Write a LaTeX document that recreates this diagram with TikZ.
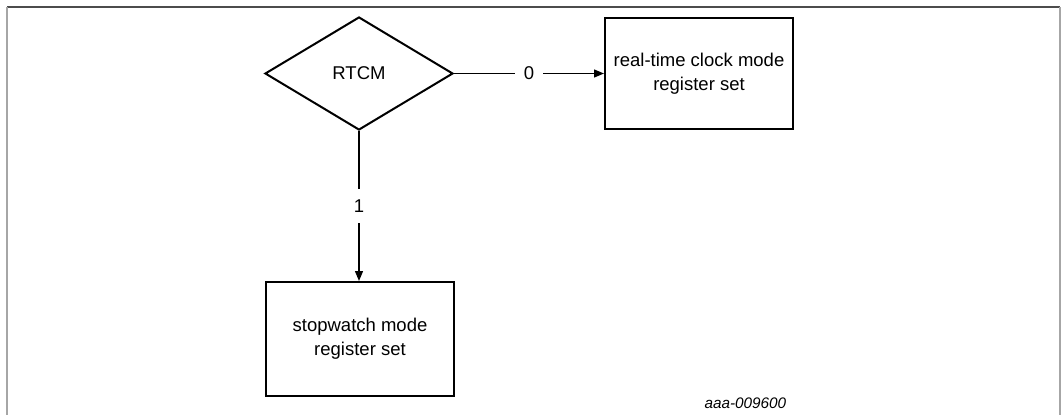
\documentclass[tikz,border=0pt]{standalone}
\usepackage{fontspec}
\setmainfont{Liberation Sans}
\usetikzlibrary{shapes.geometric,arrows.meta}
\begin{document}
\begin{tikzpicture}[x=1pt,y=-1pt,
  boxstyle/.style={draw, line width=2pt, inner sep=0pt, align=center, font=\fontsize{18.5}{24}\selectfont},
  conn/.style={line width=1.3pt},
  arr/.style={conn, -{Triangle[length=10pt,width=8pt]}},
  lbl/.style={fill=white, inner xsep=9pt, inner ysep=11pt, font=\fontsize{18.5}{22}\selectfont}]
\useasboundingbox (0,0) rectangle (1061,415);
\draw[line width=1.5pt, black!70] (7,7) -- (1060,7);
\draw[line width=1.5pt, black!35] (7,7) -- (7,415);
\draw[line width=1.5pt, black!35] (1060,7) -- (1060,415);
\node[boxstyle, diamond, minimum width=188pt, minimum height=113pt] (rtcm) at (359,73.5) {RTCM};
\node[boxstyle, rectangle, minimum width=188pt, minimum height=111pt] (rtc) at (699,73.5) {real-time clock mode\\register set};
\node[boxstyle, rectangle, minimum width=188pt, minimum height=114pt] (sw) at (360,339) {stopwatch mode\\register set};
\draw[arr] (rtcm.east) -- node[lbl, pos=0.5] (l0) {0} (rtc.west);
\draw[arr] (rtcm.south) -- node[lbl, pos=0.5] (l1) {1} (rtcm.south |- sw.north);
\node[font=\itshape\fontsize{15.3}{18}\selectfont, anchor=west] (id) at (701,403) {aaa-009600};
\end{tikzpicture}
\end{document}
